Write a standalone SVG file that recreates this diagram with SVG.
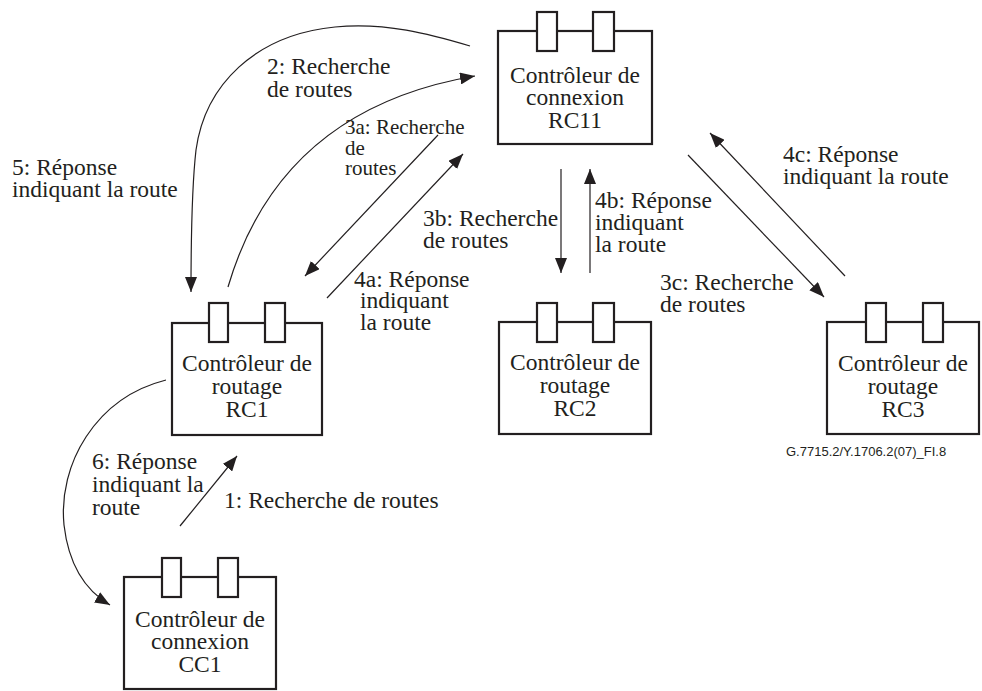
<svg xmlns="http://www.w3.org/2000/svg" width="982" height="691" viewBox="0 0 982 691">
<style>
.box{fill:#fff;stroke:#231f20;stroke-width:2.2}
.tab{fill:#fff;stroke:#231f20;stroke-width:2.2}
text{fill:#231f20;font-family:'Liberation Serif','Times New Roman',serif}
.ln{fill:none;stroke:#231f20;stroke-width:1.2}
</style>
<defs>
<marker id="ah" markerUnits="userSpaceOnUse" markerWidth="15" markerHeight="12" refX="15" refY="6" orient="auto">
<path d="M0,0 L15,6 L0,12 z" fill="#231f20"/>
</marker>
</defs>
<rect width="982" height="691" fill="#fff"/>

<g id="connectors">
<path class="ln" marker-end="url(#ah)" d="M228,287 C250,212 305,105 475,76"/>
<path class="ln" marker-end="url(#ah)" d="M470,46 C430,34 385,22 335,27 C255,35 205,85 196,150 C192,185 191,230 191,292"/>
<path class="ln" marker-end="url(#ah)" d="M438,135 L305,276"/>
<path class="ln" marker-end="url(#ah)" d="M327,298 L463,154"/>
<path class="ln" marker-end="url(#ah)" d="M561,169 L561,273"/>
<path class="ln" marker-end="url(#ah)" d="M590,273 L590,169"/>
<path class="ln" marker-end="url(#ah)" d="M688,155 L824,297"/>
<path class="ln" marker-end="url(#ah)" d="M845,276 L710,133"/>
<path class="ln" marker-end="url(#ah)" d="M180,526 L237,456"/>
<path class="ln" marker-end="url(#ah)" d="M166,380 C95,398 58,465 64,525 C69,568 88,592 110,605"/>
</g>

<g id="labels" font-size="23.5">
<text x="267" y="74">2: Recherche</text>
<text x="267" y="97">de routes</text>
<text x="12" y="175">5: Réponse</text>
<text x="12" y="197">indiquant la route</text>
<text font-size="21" x="345" y="134">3a: Recherche</text>
<text font-size="21" x="345" y="155">de</text>
<text font-size="21" x="345" y="175">routes</text>
<text x="423" y="226">3b: Recherche</text>
<text x="423" y="248">de routes</text>
<text x="595" y="208">4b: Réponse</text>
<text x="595" y="230">indiquant</text>
<text x="595" y="252">la route</text>
<text x="354" y="287">4a: Réponse</text>
<text x="360" y="308">indiquant</text>
<text x="360" y="330">la route</text>
<text x="783" y="162">4c: Réponse</text>
<text x="783" y="184">indiquant la route</text>
<text x="660" y="290">3c: Recherche</text>
<text x="660" y="312">de routes</text>
<text x="92" y="469">6: Réponse</text>
<text x="92" y="492">indiquant la</text>
<text x="92" y="515">route</text>
<text x="224" y="508">1: Recherche de routes</text>
<text style="font-family:'Liberation Sans',Arial,sans-serif" font-size="13" x="786" y="456">G.7715.2/Y.1706.2(07)_FI.8</text>
</g>

<g id="RC11" font-size="23.5" text-anchor="middle">
<rect class="box" x="498" y="31" width="154" height="113"/>
<rect class="tab" x="537" y="12" width="20" height="39"/>
<rect class="tab" x="593" y="12" width="21" height="39"/>
<text x="575" y="83">Contrôleur de</text>
<text x="575" y="105">connexion</text>
<text x="575" y="128">RC11</text>
</g>

<g id="RC1" font-size="23.5" text-anchor="middle">
<rect class="box" x="172" y="323" width="150" height="112"/>
<rect class="tab" x="209" y="303" width="19" height="39"/>
<rect class="tab" x="265" y="303" width="20" height="39"/>
<text x="247" y="371">Contrôleur de</text>
<text x="247" y="394">routage</text>
<text x="247" y="417">RC1</text>
</g>

<g id="RC2" font-size="23.5" text-anchor="middle">
<rect class="box" x="499" y="322" width="152" height="112"/>
<rect class="tab" x="537" y="303" width="20" height="39"/>
<rect class="tab" x="593" y="303" width="21" height="39"/>
<text x="575" y="370">Contrôleur de</text>
<text x="575" y="393">routage</text>
<text x="575" y="416">RC2</text>
</g>

<g id="RC3" font-size="23.5" text-anchor="middle">
<rect class="box" x="827" y="322" width="152" height="112"/>
<rect class="tab" x="866" y="303" width="20" height="39"/>
<rect class="tab" x="923" y="303" width="20" height="39"/>
<text x="903" y="371">Contrôleur de</text>
<text x="903" y="394">routage</text>
<text x="903" y="417">RC3</text>
</g>

<g id="CC1" font-size="23.5" text-anchor="middle">
<rect class="box" x="124" y="577" width="152" height="112"/>
<rect class="tab" x="162" y="558" width="19" height="39"/>
<rect class="tab" x="218" y="558" width="20" height="39"/>
<text x="200" y="627">Contrôleur de</text>
<text x="200" y="649">connexion</text>
<text x="200" y="672">CC1</text>
</g>
</svg>
